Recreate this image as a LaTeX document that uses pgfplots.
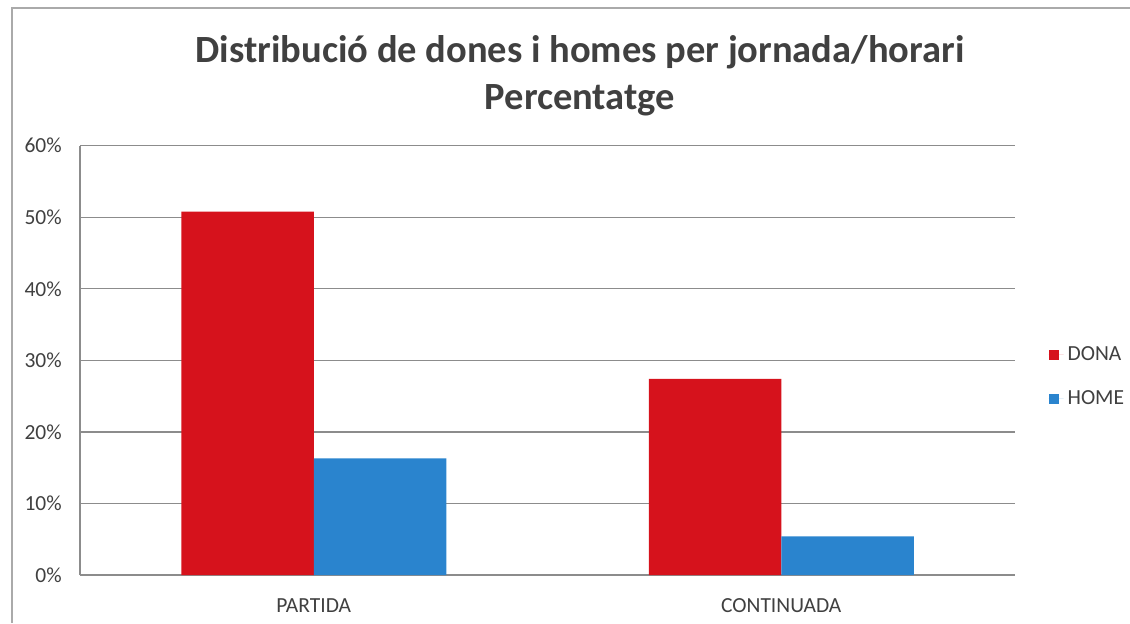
\documentclass[border=0pt]{standalone}
\usepackage{fontspec}
\setmainfont{Carlito}
\usepackage{pgfplots}
\pgfplotsset{compat=1.18}

\definecolor{donared}{RGB}{214,18,28}
\definecolor{homeblue}{RGB}{42,132,206}
\definecolor{txtgray}{RGB}{64,64,64}
\definecolor{gridgray}{RGB}{140,140,140}
\definecolor{framegray}{RGB}{170,170,170}

\begin{document}
\begin{tikzpicture}
% page = 1130 x 623 px, 1 px = 0.5 pt
\useasboundingbox (0,0) rectangle (565pt,311.5pt);
\draw[framegray, line width=0.8pt] (6pt,0) -- (6pt,307.5pt) -- (565pt,307.5pt);

\node[anchor=base, text=txtgray, font=\fontsize{19.25}{23}\selectfont\bfseries] at (290pt,280pt) {Distribució de dones i homes per jornada/horari};
\node[anchor=base, text=txtgray, font=\fontsize{19.25}{23}\selectfont\bfseries] at (290pt,257pt) {Percentatge};

\begin{axis}[
    at={(40pt,24pt)}, anchor=south west,
    scale only axis,
    width=467.5pt, height=214.65pt,
    ybar=0pt,
    bar width=66.25pt,
    xmin=-0.5, xmax=1.5,
    ymin=0, ymax=60,
    xtick={0,1},
    xticklabels={PARTIDA, CONTINUADA},
    ytick={0,10,20,30,40,50,60},
    yticklabel={\pgfmathprintnumber{\tick}\%},
    /pgf/number format/assume math mode=true,
    major tick length=0pt,
    axis x line*=bottom,
    axis y line*=left,
    axis line style={gridgray, line width=0.6pt, -},
    ymajorgrids,
    grid style={gridgray, line width=0.6pt},
    tick label style={text=txtgray, font=\fontsize{10.75}{12}\selectfont},
    xticklabel style={anchor=base, yshift=-18.5pt},
    yticklabel style={anchor=east, xshift=-5.6pt},
    legend style={draw=none, fill=none, at={(1.0355,0.462)}, anchor=west,
        font=\fontsize{10.75}{12}\selectfont, text=txtgray,
        row sep=9.5pt, inner sep=0pt, cells={anchor=west}},
    legend image code/.code={\fill[#1, draw=none] (0pt,-2.5pt) rectangle (5pt,2.5pt);
        \path (0pt,0pt) -- (7.5pt,0pt);},
]
\addplot[fill=donared, draw=none] coordinates {(0,50.8) (1,27.4)};
\addplot[fill=homeblue, draw=none] coordinates {(0,16.3) (1,5.4)};
\legend{DONA, HOME}
\end{axis}
\end{tikzpicture}
\end{document}
